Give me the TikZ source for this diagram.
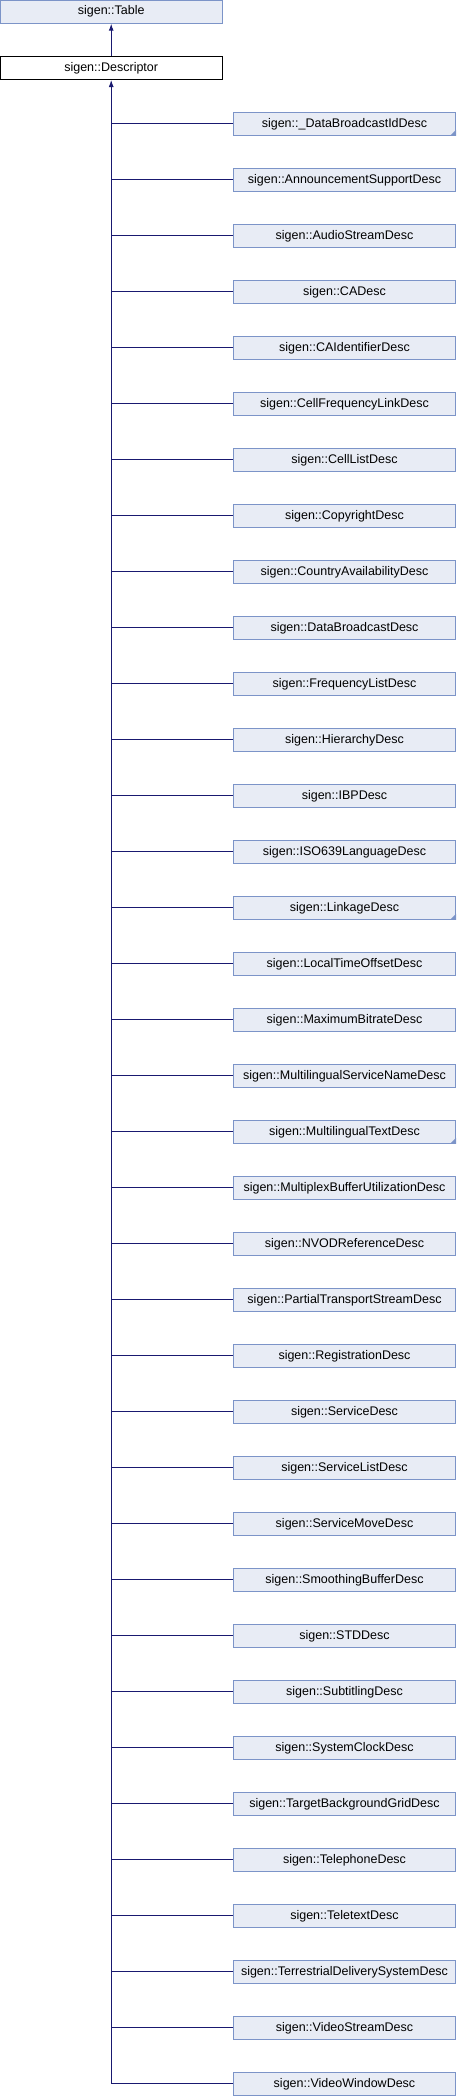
\documentclass[tikz,border=0pt]{standalone}
\usepackage{fontspec}
\setmainfont{Liberation Sans}
\usepackage{tikz}
\usetikzlibrary{arrows.meta}
\definecolor{boxfill}{HTML}{E8ECF5}
\definecolor{boxline}{HTML}{7C94C8}
\definecolor{edgeblue}{HTML}{191970}
\tikzset{
  classbox/.style={draw=boxline, fill=boxfill, line width=1pt, minimum width=222pt, minimum height=23pt, inner sep=0pt, font=\fontsize{12.5}{14}\selectfont},
  rootbox/.style={classbox, draw=black, fill=white},
  inherit/.style={edgeblue, line width=1pt}
}
\begin{document}
\begin{tikzpicture}[x=1pt,y=-1pt]
\useasboundingbox (0,0) rectangle (456,2096);

\node [classbox] (table) at (111.2,11.7) {sigen::Table};
\node [rootbox] (desc) at (111.2,68) {sigen::Descriptor};
\draw [inherit, -{Latex[length=7pt,width=5pt]}] (desc.north) -- (table.south);

\foreach \name [count=\i] in {_DataBroadcastIdDesc, AnnouncementSupportDesc, AudioStreamDesc, CADesc, CAIdentifierDesc, CellFrequencyLinkDesc, CellListDesc, CopyrightDesc, CountryAvailabilityDesc, DataBroadcastDesc, FrequencyListDesc, HierarchyDesc, IBPDesc, ISO639LanguageDesc, LinkageDesc, LocalTimeOffsetDesc, MaximumBitrateDesc, MultilingualServiceNameDesc, MultilingualTextDesc, MultiplexBufferUtilizationDesc, NVODReferenceDesc, PartialTransportStreamDesc, RegistrationDesc, ServiceDesc, ServiceListDesc, ServiceMoveDesc, SmoothingBufferDesc, STDDesc, SubtitlingDesc, SystemClockDesc, TargetBackgroundGridDesc, TelephoneDesc, TeletextDesc, TerrestrialDeliverySystemDesc, VideoStreamDesc, VideoWindowDesc}
{
  \node [classbox] (d\i) at (344.5,{123.8+56*(\i-1)}) {sigen::\detokenize\expandafter{\name}};
  \draw [inherit] (d\i.west) -- (d\i.west -| desc.south);
}

% boxes with more children
\foreach \i in {1,15,19} {\fill [boxline] (d\i.south east) -- ++(-6,0) -- ++(6,-6) -- cycle;}

\draw [inherit, -{Latex[length=7pt,width=5pt]}] (d36.west -| desc.south) -- (desc.south);

\end{tikzpicture}
\end{document}
